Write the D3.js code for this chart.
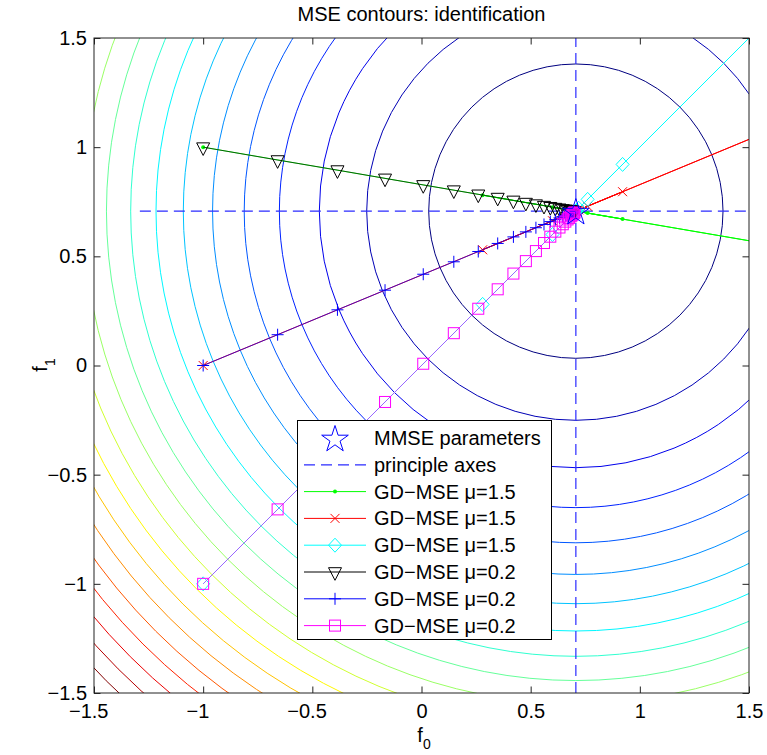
<!DOCTYPE html>
<html>
<head>
<meta charset="utf-8">
<script src="https://cdn.jsdelivr.net/npm/d3@7"></script>
<style>
  body { margin: 0; background: #fff; }
  text { font-family: "Liberation Sans", Arial, sans-serif; fill: #000; }
</style>
</head>
<body>
<svg id="chart" width="767" height="755"></svg>
<script>
// axis ticks
const tickValues = [-1.5, -1, -0.5, 0, 0.5, 1, 1.5];

// MMSE point and principle axes (f0 range of horizontal, f1 range of vertical)
const mmsePoint = [0.707, 0.707];
const hAxisF0 = [-1.29, 1.5];
const vAxisF1 = [-1.5, 1.5];

// contour radii around the MMSE point (inner -> outer)
const contourRadii = [0.674, 0.958, 1.175, 1.358, 1.519, 1.664, 1.798, 1.923, 2.039, 2.150,
                      2.255, 2.356, 2.452, 2.545, 2.634, 2.721, 2.804, 2.886, 2.965, 3.042];

// GD trajectories, mu = 1.5 (overshoot around the minimum)
const f0Fast   = [-1.000, 1.561, 0.280, 0.921, 0.600, 0.761, 0.680, 0.720, 0.701, 0.710, 0.705, 0.708, 0.707];
const f1Green  = [ 1.000, 0.561, 0.780, 0.671, 0.725, 0.698, 0.712, 0.705, 0.708, 0.706, 0.707, 0.707, 0.707];
const f1Red    = [ 0.000, 1.061, 0.530, 0.796, 0.663, 0.729, 0.696, 0.713, 0.704, 0.709, 0.706, 0.708, 0.707];
const f1Cyan   = f0Fast;

// GD trajectories, mu = 0.2
const f0Slow   = [-1.000, -0.659, -0.385, -0.167, 0.008, 0.148, 0.260, 0.349, 0.421, 0.478, 0.524, 0.561, 0.590,
                   0.613, 0.632, 0.647, 0.659, 0.669, 0.676, 0.683, 0.687, 0.691, 0.695, 0.697, 0.699, 0.701];
const f1Black  = [ 1.000, 0.941, 0.895, 0.857, 0.827, 0.803, 0.784, 0.769, 0.756, 0.746, 0.739, 0.732, 0.727,
                   0.723, 0.720, 0.717, 0.715, 0.714, 0.712, 0.711, 0.711, 0.710, 0.709, 0.709, 0.708, 0.708];
const f1Blue   = [ 0.000, 0.141, 0.255, 0.345, 0.418, 0.475, 0.522, 0.559, 0.589, 0.612, 0.631, 0.646, 0.659,
                   0.668, 0.676, 0.682, 0.687, 0.691, 0.694, 0.697, 0.699, 0.701, 0.702, 0.703, 0.704, 0.704];
const f1Magenta = f0Slow;

const legendLabels = ["MMSE parameters", "principle axes",
  "GD\u2212MSE \u03bc=1.5", "GD\u2212MSE \u03bc=1.5", "GD\u2212MSE \u03bc=1.5",
  "GD\u2212MSE \u03bc=0.2", "GD\u2212MSE \u03bc=0.2", "GD\u2212MSE \u03bc=0.2"];

// the mu=0.2 lines sit on top of the mu=1.5 ones, they blend in the picture
const series = [
  { xs: f0Fast, ys: f1Green,   color: "#00ff00", marker: "dot",     op: 1 },
  { xs: f0Fast, ys: f1Red,     color: "#ff0000", marker: "x",       op: 1 },
  { xs: f0Fast, ys: f1Cyan,    color: "#00ffff", marker: "diamond", op: 1 },
  { xs: f0Slow, ys: f1Black,   color: "#000000", marker: "tri",     op: 0.6 },
  { xs: f0Slow, ys: f1Blue,    color: "#0000ff", marker: "plus",    op: 0.7 },
  { xs: f0Slow, ys: f1Magenta, color: "#ff00ff", marker: "square",  op: 0.6 }
];

const svg = d3.select("#chart");
const plot = { left: 94, right: 749, top: 38, bottom: 693 };
const fontSize = 20;

const x = d3.scaleLinear().domain([-1.5, 1.5]).range([plot.left, plot.right]);
const y = d3.scaleLinear().domain([-1.5, 1.5]).range([plot.bottom, plot.top]);

svg.append("clipPath").attr("id", "clip")
  .append("rect")
  .attr("x", plot.left).attr("y", plot.top)
  .attr("width", plot.right - plot.left).attr("height", plot.bottom - plot.top);

// jet colormap like matlab
function jet(t) {
  const c = v => Math.max(0, Math.min(1, v));
  const r = c(Math.min(4 * t - 1.5, -4 * t + 4.5));
  const g = c(Math.min(4 * t - 0.5, -4 * t + 3.5));
  const b = c(Math.min(4 * t + 0.5, -4 * t + 2.5));
  return d3.rgb(r * 255, g * 255, b * 255).toString();
}

const g = svg.append("g").attr("clip-path", "url(#clip)");

// contours
g.append("g").selectAll("circle")
  .data(contourRadii)
  .join("circle")
  .attr("cx", x(mmsePoint[0]))
  .attr("cy", y(mmsePoint[1]))
  .attr("r", d => x(d) - x(0))
  .attr("fill", "none")
  .attr("stroke", (d, i) => jet(i / (contourRadii.length - 1)))
  .attr("stroke-width", 1);

// principle axes
const dash = "11,6";
g.append("line")
  .attr("x1", x(hAxisF0[0])).attr("x2", x(hAxisF0[1]))
  .attr("y1", y(mmsePoint[1])).attr("y2", y(mmsePoint[1]))
  .attr("stroke", "#2b2bff").attr("stroke-width", 1.2).attr("stroke-dasharray", dash);
g.append("line")
  .attr("x1", x(mmsePoint[0])).attr("x2", x(mmsePoint[0]))
  .attr("y1", y(vAxisF1[0])).attr("y2", y(vAxisF1[1]))
  .attr("stroke", "#2b2bff").attr("stroke-width", 1.2).attr("stroke-dasharray", dash);

function drawMarker(sel, type, color) {
  if (type === "dot") {
    sel.append("circle").attr("r", 2).attr("fill", color);
  } else if (type === "x") {
    sel.append("path").attr("d", "M-4.5,-4.5L4.5,4.5M-4.5,4.5L4.5,-4.5")
      .attr("stroke", color).attr("fill", "none");
  } else if (type === "plus") {
    sel.append("path").attr("d", "M-6,0L6,0M0,-6L0,6")
      .attr("stroke", color).attr("fill", "none");
  } else if (type === "diamond") {
    sel.append("path").attr("d", "M0,-7L6.5,0L0,7L-6.5,0Z")
      .attr("stroke", color).attr("fill", "none");
  } else if (type === "square") {
    sel.append("rect").attr("x", -5.5).attr("y", -5.5).attr("width", 11).attr("height", 11)
      .attr("stroke", color).attr("fill", "none");
  } else if (type === "tri") {
    sel.append("path").attr("d", "M-6.5,-4.3L6.5,-4.3L0,8.3Z")
      .attr("stroke", color).attr("fill", "none");
  } else if (type === "star") {
    const pts = d3.range(10).map(i => {
      const a = -Math.PI / 2 + i * Math.PI / 5;
      const rr = i % 2 ? 5.3 : 14;
      return [rr * Math.cos(a), rr * Math.sin(a) + 1.5];
    });
    sel.append("path").attr("d", "M" + pts.join("L") + "Z")
      .attr("stroke", color).attr("fill", "none");
  }
}

const line = d3.line().x(d => x(d[0])).y(d => y(d[1]));

series.forEach(s => {
  const pts = s.xs.map((v, i) => [v, s.ys[i]]);
  const sg = g.append("g");
  sg.append("path").datum(pts)
    .attr("d", line)
    .attr("fill", "none")
    .attr("stroke", s.color)
    .attr("stroke-opacity", s.op)
    .attr("stroke-width", 1);
  sg.selectAll("g.m").data(pts).join("g")
    .attr("class", "m")
    .attr("transform", d => `translate(${x(d[0])},${y(d[1])})`)
    .each(function () { drawMarker(d3.select(this), s.marker, s.color); });
});

// MMSE star
const star = g.append("g").attr("transform", `translate(${x(mmsePoint[0])},${y(mmsePoint[1])})`);
drawMarker(star, "star", "#0000ff");

// axes
const fmt = d => d < 0 ? "\u2212" + Math.abs(d) : String(d);
svg.append("g")
  .attr("class", "xaxis")
  .attr("transform", `translate(0,${plot.bottom})`)
  .call(d3.axisBottom(x).tickValues(tickValues).tickFormat(fmt).tickSizeInner(-6.5).tickSizeOuter(0).tickPadding(11));
svg.selectAll(".xaxis text").attr("dx", d => d < 0 ? -5.8 : 0);
svg.append("g")
  .attr("transform", `translate(${plot.left},0)`)
  .call(d3.axisLeft(y).tickValues(tickValues).tickFormat(fmt).tickSizeInner(-6.5).tickSizeOuter(0).tickPadding(7));
svg.append("g")
  .attr("transform", `translate(0,${plot.top})`)
  .call(d3.axisTop(x).tickValues(tickValues).tickFormat("").tickSizeInner(-6.5).tickSizeOuter(0));
svg.append("g")
  .attr("transform", `translate(${plot.right},0)`)
  .call(d3.axisRight(y).tickValues(tickValues).tickFormat("").tickSizeInner(-6.5).tickSizeOuter(0));
svg.selectAll(".tick text").attr("font-size", fontSize).attr("font-family", null);
svg.selectAll(".domain").remove();
svg.selectAll(".tick line").attr("stroke", "#222");

svg.append("rect")
  .attr("x", plot.left).attr("y", plot.top)
  .attr("width", plot.right - plot.left).attr("height", plot.bottom - plot.top)
  .attr("fill", "none").attr("stroke", "#222").attr("stroke-width", 1);

// title and labels
svg.append("text")
  .attr("x", (plot.left + plot.right) / 2).attr("y", 21)
  .attr("text-anchor", "middle").attr("font-size", fontSize)
  .text("MSE contours: identification");

const xl = svg.append("text")
  .attr("x", 424).attr("y", 742)
  .attr("text-anchor", "middle").attr("font-size", fontSize);
xl.append("tspan").text("f");
xl.append("tspan").attr("font-size", 14).attr("dy", 7).text("0");

const yl = svg.append("text")
  .attr("transform", "translate(47,365) rotate(-90)")
  .attr("text-anchor", "middle").attr("font-size", fontSize);
yl.append("tspan").text("f");
yl.append("tspan").attr("font-size", 14).attr("dy", 8).text("1");

// legend
const leg = svg.append("g");
leg.append("rect")
  .attr("x", 297.5).attr("y", 420.5).attr("width", 254).attr("height", 219)
  .attr("fill", "#fff").attr("stroke", "#000").attr("stroke-width", 1);

const legendItems = [
  { color: "#0000ff", marker: "star", line: false },
  { color: "#2b2bff", marker: null, line: true, dash: true },
  ...series.map(s => ({ color: s.color, marker: s.marker, line: true }))
];
legendItems.forEach((it, i) => {
  const cy = 438 + i * 26.8;
  const row = leg.append("g");
  if (it.line) {
    row.append("line").attr("x1", 304).attr("x2", 366).attr("y1", cy).attr("y2", cy)
      .attr("stroke", it.color).attr("stroke-width", it.dash ? 1.2 : 1)
      .attr("stroke-dasharray", it.dash ? dash : null);
  }
  if (it.marker) {
    const m = row.append("g").attr("transform", `translate(335,${cy})`);
    drawMarker(m, it.marker, it.color);
  }
  row.append("text").attr("x", 374).attr("y", cy).attr("dy", "0.35em")
    .attr("font-size", fontSize).text(legendLabels[i]);
});
</script>
</body>
</html>
